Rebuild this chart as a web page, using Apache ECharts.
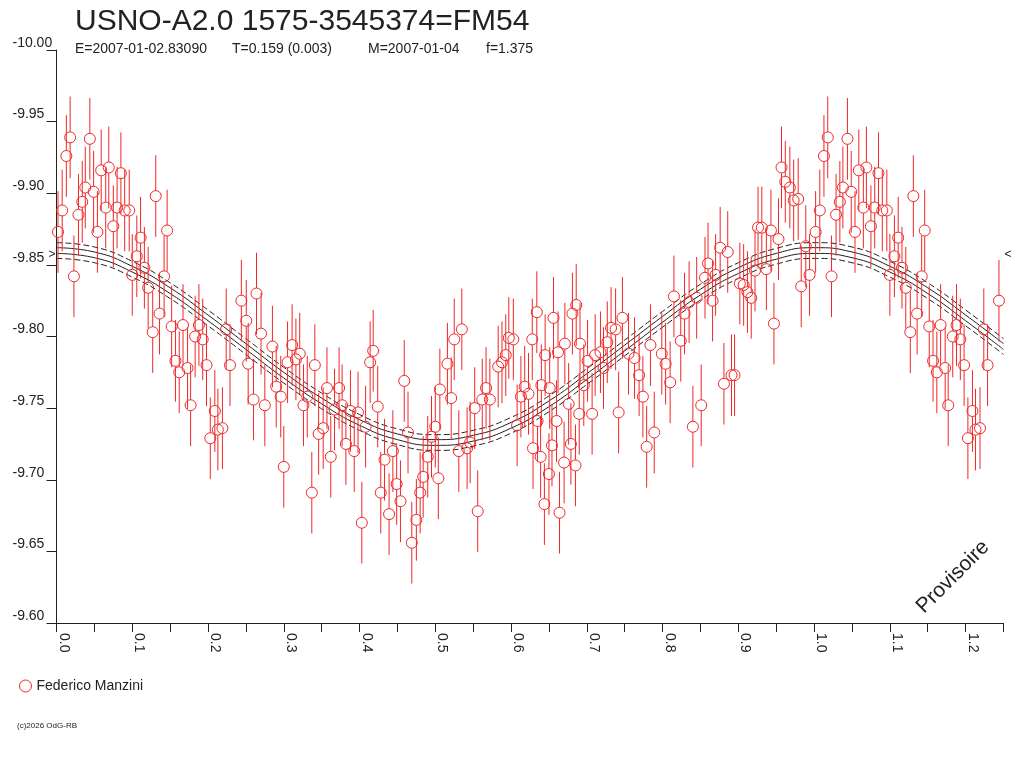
<!DOCTYPE html>
<html>
<head>
<meta charset="utf-8">
<title>USNO-A2.0 1575-3545374=FM54</title>
<script src="https://cdn.jsdelivr.net/npm/echarts@6/dist/echarts.min.js"></script>
<style>
  html, body { margin: 0; padding: 0; background: #fff; }
  #main { width: 1024px; height: 768px; }
</style>
</head>
<body>
<div id="main"></div>
<script>
// observations, phase 0..1 (magnitudes)
const phases = [
  0.002, 0.0075, 0.013, 0.018, 0.023, 0.029, 0.034, 0.038, 0.044, 0.049,
  0.054, 0.059, 0.065, 0.069, 0.075, 0.080, 0.085, 0.090, 0.096, 0.100,
  0.106, 0.111, 0.116, 0.121, 0.127, 0.131, 0.136, 0.142, 0.146, 0.152,
  0.157, 0.162, 0.167, 0.173, 0.177, 0.183, 0.188, 0.193, 0.198, 0.203,
  0.209, 0.213, 0.219, 0.224, 0.229, 0.244, 0.2505, 0.253,
  0.260, 0.264, 0.270, 0.275, 0.285, 0.290, 0.296, 0.300, 0.305, 0.311,
  0.316, 0.321, 0.326, 0.331, 0.337, 0.341, 0.346, 0.352, 0.357, 0.362,
  0.367, 0.373, 0.377, 0.382, 0.388, 0.393, 0.398, 0.403, 0.408, 0.414,
  0.418, 0.424, 0.428, 0.433, 0.439, 0.444, 0.449, 0.454, 0.459, 0.464,
  0.469, 0.475, 0.480, 0.484, 0.490, 0.495, 0.500, 0.504, 0.506,
  0.516, 0.521, 0.525, 0.531, 0.535, 0.542, 0.546, 0.552, 0.556, 0.562,
  0.567, 0.572, 0.583, 0.588, 0.593, 0.597, 0.603, 0.608, 0.613, 0.618,
  0.623, 0.628, 0.629, 0.634, 0.635, 0.639, 0.640, 0.644, 0.645, 0.650,
  0.651, 0.654, 0.656, 0.660, 0.662, 0.664, 0.670, 0.671, 0.676, 0.679,
  0.681, 0.685, 0.686, 0.690, 0.691, 0.696, 0.701, 0.707, 0.711, 0.718,
  0.722, 0.727, 0.732, 0.738, 0.742, 0.747, 0.755,
  0.763, 0.769, 0.774, 0.779, 0.784, 0.789, 0.799, 0.804, 0.810, 0.815,
  0.824, 0.829, 0.835, 0.840, 0.845, 0.851, 0.856, 0.860, 0.866, 0.870,
  0.876, 0.881, 0.886, 0.891, 0.895, 0.902, 0.907, 0.912, 0.917, 0.922,
  0.926, 0.931, 0.937, 0.943, 0.947, 0.953, 0.957, 0.962, 0.968, 0.973,
  0.979, 0.983, 0.989, 0.994
]
const mags = [
  -9.873, -9.888, -9.926, -9.939, -9.842, -9.885, -9.894, -9.904, -9.938, -9.901,
  -9.873, -9.916, -9.890, -9.918, -9.877, -9.890, -9.914, -9.888, -9.888, -9.843,
  -9.856, -9.869, -9.848, -9.834, -9.803, -9.898, -9.816, -9.842, -9.874, -9.807,
  -9.783, -9.775, -9.808, -9.778, -9.752, -9.800, -9.808, -9.798, -9.780, -9.729,
  -9.748, -9.735, -9.736, -9.805, -9.780, -9.825, -9.811, -9.781,
  -9.756, -9.830, -9.802, -9.752, -9.793, -9.765, -9.758, -9.709, -9.782, -9.794,
  -9.784, -9.788, -9.752, -9.758, -9.691, -9.780, -9.732, -9.736, -9.764, -9.716,
  -9.749, -9.764, -9.752, -9.725, -9.748, -9.720, -9.747, -9.670, -9.737, -9.782,
  -9.790, -9.751, -9.691, -9.714, -9.676, -9.720, -9.697, -9.685, -9.769, -9.733,
  -9.656, -9.672, -9.691, -9.702, -9.716, -9.730, -9.737, -9.701, -9.763,
  -9.781, -9.757, -9.798, -9.720, -9.805, -9.722, -9.726, -9.750, -9.678, -9.756,
  -9.764, -9.756, -9.779, -9.782, -9.787, -9.799, -9.798, -9.738, -9.758, -9.765,
  -9.760, -9.798, -9.722, -9.817, -9.741, -9.716, -9.766, -9.683, -9.787, -9.704,
  -9.764, -9.724, -9.813, -9.741, -9.789, -9.677, -9.712, -9.795, -9.753, -9.725,
  -9.816, -9.710, -9.822, -9.746, -9.795, -9.766, -9.783, -9.746, -9.787, -9.789,
  -9.778, -9.796, -9.806, -9.805, -9.747, -9.813, -9.788,
  -9.785, -9.773, -9.758, -9.723, -9.794, -9.733, -9.788, -9.781, -9.768, -9.828,
  -9.797, -9.816, -9.824, -9.737, -9.827, -9.752, -9.841, -9.851, -9.825, -9.843,
  -9.862, -9.767, -9.859, -9.773, -9.773, -9.837, -9.836, -9.831, -9.827, -9.846,
  -9.876, -9.876, -9.847, -9.874, -9.809, -9.868, -9.918, -9.908, -9.904, -9.895,
  -9.896, -9.835, -9.863, -9.843
]
const magError = 0.0285

// fitted light curve
const modelPhase = [0.00, 0.05, 0.10, 0.15, 0.20, 0.25, 0.30, 0.35, 0.40, 0.45, 0.50, 0.55, 0.60,
  0.65, 0.70, 0.75, 0.80, 0.85, 0.90, 0.95, 1.00, 1.05, 1.10, 1.15, 1.20, 1.25]
const modelMag = [-9.860, -9.857, -9.847, -9.832, -9.813, -9.793, -9.773, -9.755, -9.740, -9.730,
  -9.726, -9.729, -9.738, -9.753, -9.772, -9.792, -9.812, -9.831, -9.846, -9.856,
  -9.860, -9.857, -9.847, -9.832, -9.813, -9.793]
const bandSolid = [-0.002, 0.002]
const bandDashed = [-0.0055, 0.0055]
const meanMag = -9.857

const phaseMax = 1.25
const red = '#f02828'
const ink = '#222'
const font = '"Liberation Sans", Arial, sans-serif'

// points are repeated one cycle further, up to the end of the axis
const points = phases.map((p, i) => [p, mags[i]])
phases.forEach((p, i) => {
  if (p + 1 <= phaseMax) points.push([p + 1, mags[i]])
})

const modelLine = (offset, type) => ({
  type: 'line',
  data: modelPhase.map((p, i) => [p, modelMag[i] + offset]),
  smooth: true,
  symbol: 'none',
  silent: true,
  lineStyle: { color: ink, width: 1, type: type },
  z: 3
})

const myChart = echarts.init(document.getElementById('main'))

const option = {
  animation: false,
  backgroundColor: '#fff',
  textStyle: { fontFamily: font },
  grid: { left: 56.5, right: 20.5, top: 50, bottom: 145 },
  legend: {
    left: 14, top: 674,
    itemWidth: 12, itemHeight: 12,
    data: [{ name: 'Federico Manzini', icon: 'circle',
      itemStyle: { color: 'rgba(0,0,0,0)', borderColor: red, borderWidth: 1 } }],
    textStyle: { fontSize: 14, color: ink, fontFamily: font }
  },
  xAxis: {
    type: 'value',
    min: 0, max: phaseMax, interval: 0.05,
    splitLine: { show: false },
    axisLine: { lineStyle: { color: ink, width: 1 } },
    axisTick: { length: 9, lineStyle: { color: ink } },
    axisLabel: {
      rotate: -90,
      margin: 10,
      verticalAlign: 'bottom',
      fontSize: 14,
      color: ink,
      formatter: v => (Math.round(v * 100) % 10 === 0 ? v.toFixed(1) : '')
    }
  },
  yAxis: {
    type: 'value',
    min: -10, max: -9.6, interval: 0.05,
    inverse: true,
    splitLine: { show: false },
    axisLine: { lineStyle: { color: ink, width: 1 } },
    axisTick: { length: 10, lineStyle: { color: ink } },
    axisLabel: {
      margin: 44,
      align: 'left',
      verticalAlign: 'bottom',
      fontSize: 14,
      color: ink,
      formatter: v => v.toFixed(2)
    }
  },
  series: [
    modelLine(bandDashed[0], [6, 3]),
    modelLine(bandSolid[0], 'solid'),
    modelLine(bandSolid[1], 'solid'),
    modelLine(bandDashed[1], [6, 3]),
    {
      type: 'custom',
      name: 'errors',
      data: points,
      clip: true,
      silent: true,
      z: 4,
      renderItem: (params, api) => {
        const x = api.value(0)
        const y = api.value(1)
        const c = api.coord([x, y])
        const top = api.coord([x, y - magError])
        const bot = api.coord([x, y + magError])
        const r = 5.5
        const style = { stroke: red, lineWidth: 1 }
        return {
          type: 'group',
          children: [
            { type: 'line', shape: { x1: c[0], y1: top[1], x2: c[0], y2: c[1] - r }, style },
            { type: 'line', shape: { x1: c[0], y1: c[1] + r, x2: c[0], y2: bot[1] }, style }
          ]
        }
      }
    },
    {
      type: 'scatter',
      name: 'Federico Manzini',
      data: points,
      symbol: 'circle',
      symbolSize: 11,
      itemStyle: { color: 'rgba(0,0,0,0)', borderColor: red, borderWidth: 1, opacity: 1 },
      z: 5
    }
  ]
}

myChart.setOption(option)

// texts around the plot; the mean-level markers are placed through the axes
const left = myChart.convertToPixel({ gridIndex: 0 }, [0, meanMag])
const right = myChart.convertToPixel({ gridIndex: 0 }, [phaseMax, meanMag])

myChart.setOption({
  graphic: [
    { type: 'text', left: 75, top: 7,
      style: { text: 'USNO-A2.0 1575-3545374=FM54', font: '30px ' + font, fill: ink } },
    { type: 'text', x: 75, y: 49,
      style: { text: 'E=2007-01-02.83090', font: '14px ' + font, fill: ink, verticalAlign: 'middle' } },
    { type: 'text', x: 232, y: 49,
      style: { text: 'T=0.159 (0.003)', font: '14px ' + font, fill: ink, verticalAlign: 'middle' } },
    { type: 'text', x: 368, y: 49,
      style: { text: 'M=2007-01-04', font: '14px ' + font, fill: ink, verticalAlign: 'middle' } },
    { type: 'text', x: 486, y: 49,
      style: { text: 'f=1.375', font: '14px ' + font, fill: ink, verticalAlign: 'middle' } },
    { type: 'text', x: left[0] - 1, y: left[1],
      style: { text: '>', font: '12px ' + font, fill: ink, align: 'right', verticalAlign: 'middle' } },
    { type: 'text', x: right[0] + 1, y: right[1],
      style: { text: '<', font: '12px ' + font, fill: ink, align: 'left', verticalAlign: 'middle' } },
    { type: 'text', x: 953, y: 577, rotation: Math.PI / 4,
      style: { text: 'Provisoire', font: '21px ' + font, fill: ink, align: 'center', verticalAlign: 'middle' } },
    { type: 'text', x: 17, y: 726,
      style: { text: '(c)2026 OdG-RB', font: '8px ' + font, fill: ink, verticalAlign: 'middle' } }
  ]
})
</script>
</body>
</html>
